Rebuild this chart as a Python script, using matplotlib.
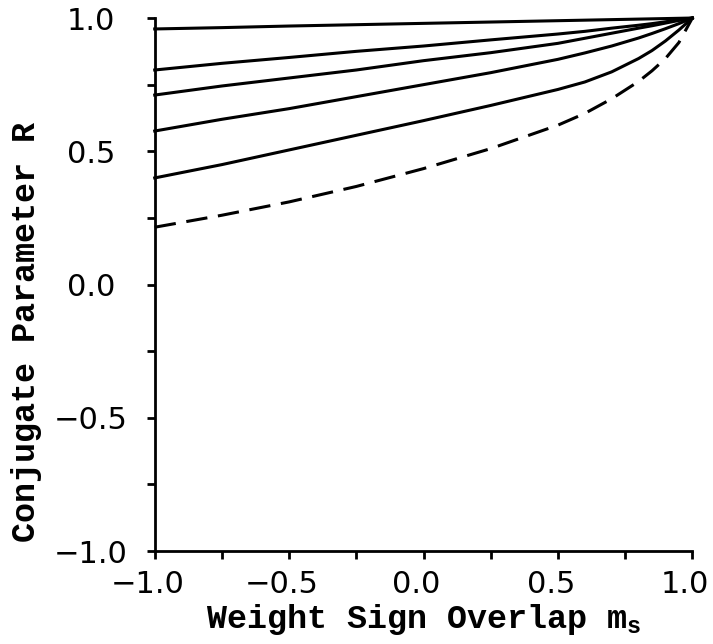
import matplotlib
matplotlib.use("Agg")
import matplotlib.pyplot as plt
import matplotlib.transforms as mtransforms
from matplotlib.ticker import MultipleLocator

# values, R vs m_s
m_s = [-1.0, -0.75, -0.5, -0.25, 0.0, 0.25, 0.5, 0.6, 0.7, 0.8, 0.85, 0.9, 0.95, 1.0]
r_curve1 = [0.959, 0.964, 0.970, 0.975, 0.980, 0.985, 0.990, 0.992, 0.994, 0.996, 0.997, 0.998, 0.999, 1.0]
r_curve2 = [0.805, 0.830, 0.852, 0.875, 0.895, 0.918, 0.940, 0.950, 0.962, 0.973, 0.979, 0.986, 0.993, 1.0]
r_curve3 = [0.711, 0.745, 0.775, 0.805, 0.840, 0.870, 0.905, 0.924, 0.943, 0.962, 0.971, 0.981, 0.991, 1.0]
r_curve4 = [0.576, 0.620, 0.660, 0.705, 0.750, 0.795, 0.845, 0.869, 0.895, 0.925, 0.942, 0.960, 0.979, 1.0]
r_curve5 = [0.400, 0.450, 0.505, 0.560, 0.615, 0.672, 0.732, 0.760, 0.798, 0.848, 0.878, 0.914, 0.955, 1.0]

m_s_dash = [-1.0, -0.75, -0.5, -0.25, 0.0, 0.25, 0.5, 0.6, 0.7, 0.8, 0.85, 0.9, 0.95, 1.0]
r_dash = [0.215, 0.260, 0.310, 0.368, 0.435, 0.510, 0.598, 0.642, 0.697, 0.762, 0.802, 0.848, 0.908, 1.0]

xticks = [-1.0, -0.5, 0.0, 0.5, 1.0]
yticks = [-1.0, -0.5, 0.0, 0.5, 1.0]
tick_labels = ["\u22121.0", "\u22120.5", "0.0", "0.5", "1.0"]

plt.rcParams["mathtext.fontset"] = "custom"
plt.rcParams["mathtext.rm"] = "Liberation Mono:bold"

fig = plt.figure(figsize=(7.13, 6.44), dpi=100)
ax = fig.add_axes([0.217, 0.1444, 0.754, 0.8276])

for r in [r_curve1, r_curve2, r_curve3, r_curve4, r_curve5]:
    ax.plot(m_s, r, color="black", lw=2.2, clip_on=False)
ax.plot(m_s_dash, r_dash, color="black", lw=2.2, dashes=(7, 3.5), clip_on=False)

ax.set_xlim(-1, 1)
ax.set_ylim(-1, 1)
ax.spines["top"].set_visible(False)
ax.spines["right"].set_visible(False)
for s in ["left", "bottom"]:
    ax.spines[s].set_linewidth(2.0)

ax.set_xticks(xticks)
ax.set_yticks(yticks)
ax.xaxis.set_minor_locator(MultipleLocator(0.25))
ax.yaxis.set_minor_locator(MultipleLocator(0.25))
ax.tick_params(which="both", direction="out", length=6, width=2.0)
ax.tick_params(axis="x", pad=8, labelsize=22)
ax.tick_params(axis="y", pad=40, labelsize=22)
ax.set_xticklabels(tick_labels, family="DejaVu Sans")
ax.set_yticklabels(tick_labels, family="DejaVu Sans")
for lab in ax.get_yticklabels():
    lab.set_ha("center")
# ref labels sit a little left of their ticks
shift = mtransforms.ScaledTranslation(-7 / 100, 0, fig.dpi_scale_trans)
for lab in ax.get_xticklabels():
    lab.set_transform(lab.get_transform() + shift)

ax.set_xlabel(r"Weight Sign Overlap m$_\mathrm{s}$", family="Liberation Mono",
              weight="bold", fontsize=24, labelpad=2)
ax.set_ylabel("Conjugate Parameter R", family="Liberation Mono",
              weight="bold", fontsize=24)
ax.yaxis.set_label_coords(-0.21, 0.41)

plt.savefig("out.png", dpi=100)
